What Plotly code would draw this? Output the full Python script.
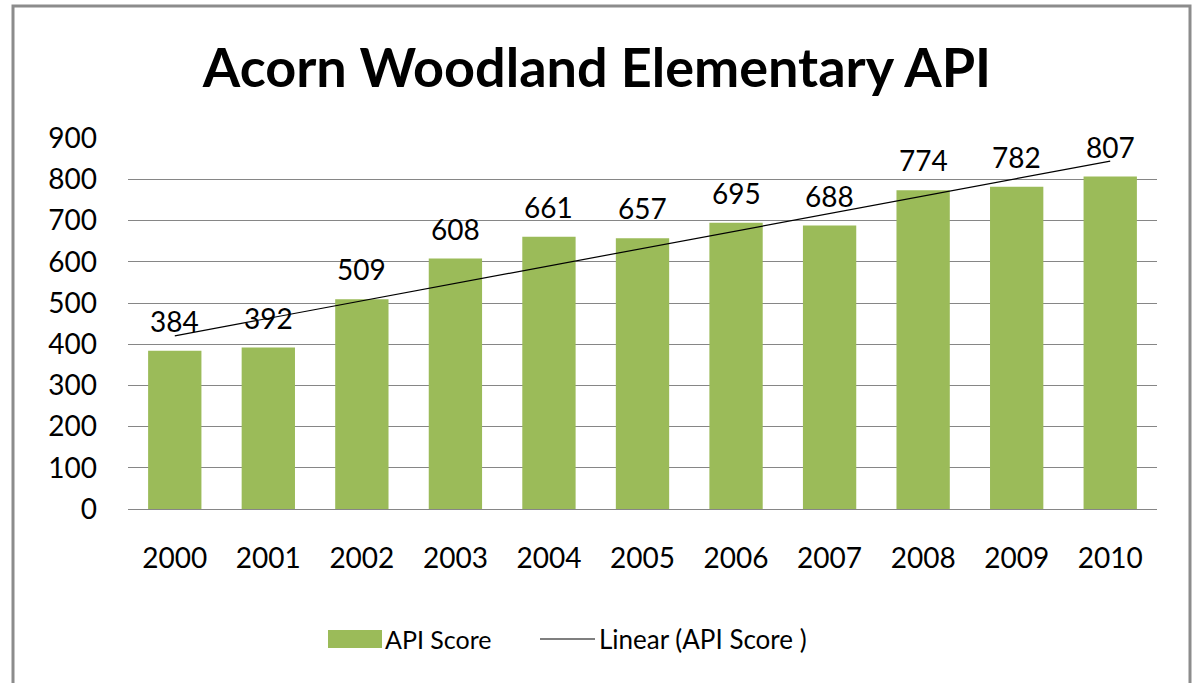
import numpy as np
import plotly.graph_objects as go

years = [2000, 2001, 2002, 2003, 2004, 2005, 2006, 2007, 2008, 2009, 2010]
scores = [384, 392, 509, 608, 661, 657, 695, 688, 774, 782, 807]
y_ticks = [0, 100, 200, 300, 400, 500, 600, 700, 800, 900]
series_name = "API Score"
trend_name = "Linear (API Score )"
title_text = "Acorn Woodland Elementary API"

# Excel-style linear trendline (least squares fit of the series)
slope, intercept = np.polyfit(years, scores, 1)
trend = [float(intercept + slope * yv) for yv in years]

FONT = "Lato"
BAR_COLOR = "#9BBB59"
W, H = 1194, 683
L, R, T, B = 128, 37, 138, 174
pw, ph = W - L - R, H - T - B


def px_x(p):
    return (p - L) / pw


def px_y(p):
    return (H - B - p) / ph


fig = go.Figure()
fig.add_trace(go.Bar(x=years, y=scores, name=series_name, width=0.57,
                     marker=dict(color=BAR_COLOR, line=dict(width=0)), showlegend=False))
fig.add_trace(go.Scatter(x=years, y=trend, mode="lines", name=trend_name,
                         line=dict(color="#000000", width=1.2), showlegend=False))

for yr, v in zip(years, scores):
    fig.add_annotation(x=yr, y=v, text=str(v), showarrow=False, yanchor="bottom", yshift=11,
                       font=dict(family=FONT, size=28, color="#000000"))

# chart border
fig.add_shape(type="rect", xref="paper", yref="paper",
              x0=px_x(13), x1=px_x(1190), y0=px_y(700), y1=px_y(6),
              line=dict(color="#8c8c8c", width=3), fillcolor="rgba(0,0,0,0)", layer="below")

# legend (Excel style)
fig.add_shape(type="rect", xref="paper", yref="paper",
              x0=px_x(328), x1=px_x(382), y0=px_y(648), y1=px_y(630),
              line=dict(width=0), fillcolor=BAR_COLOR)
fig.add_annotation(xref="paper", yref="paper", x=px_x(383), y=px_y(639), xanchor="left",
                   yanchor="middle", text=series_name, showarrow=False,
                   font=dict(family=FONT, size=25, color="#000000"))
fig.add_shape(type="line", xref="paper", yref="paper",
              x0=px_x(540), x1=px_x(595), y0=px_y(639), y1=px_y(639),
              line=dict(color="#000000", width=1.2))
fig.add_annotation(xref="paper", yref="paper", x=px_x(597), y=px_y(639), xanchor="left",
                   yanchor="middle", text=trend_name, showarrow=False,
                   font=dict(family=FONT, size=26, color="#000000"))

fig.update_layout(
    width=W, height=H,
    margin=dict(l=L, r=R, t=T, b=B),
    paper_bgcolor="white", plot_bgcolor="white",
    title=dict(text="<b>" + title_text + "</b>", x=0.5, xanchor="center",
               y=1 - 68 / H, yanchor="middle", font=dict(family=FONT, size=54, color="#000000")),
    showlegend=False,
    xaxis=dict(range=[years[0] - 0.5, years[-1] + 0.5], tickvals=years,
               ticktext=[str(yv) for yv in years], showgrid=False, showline=False, ticks="",
               zeroline=False, ticklabelstandoff=30,
               tickfont=dict(family=FONT, size=28, color="#000000")),
    yaxis=dict(range=[0, 900.6], tickvals=y_ticks, showgrid=True, gridcolor="#868686", gridwidth=1,
               zeroline=True, zerolinecolor="#868686", zerolinewidth=1, showline=False, ticks="",
               ticklabelstandoff=30, tickfont=dict(family=FONT, size=28, color="#000000")),
)

fig.write_html("out.html", config={"displayModeBar": False},
               post_script="document.body.style.margin='0';document.body.style.overflow='hidden';")
